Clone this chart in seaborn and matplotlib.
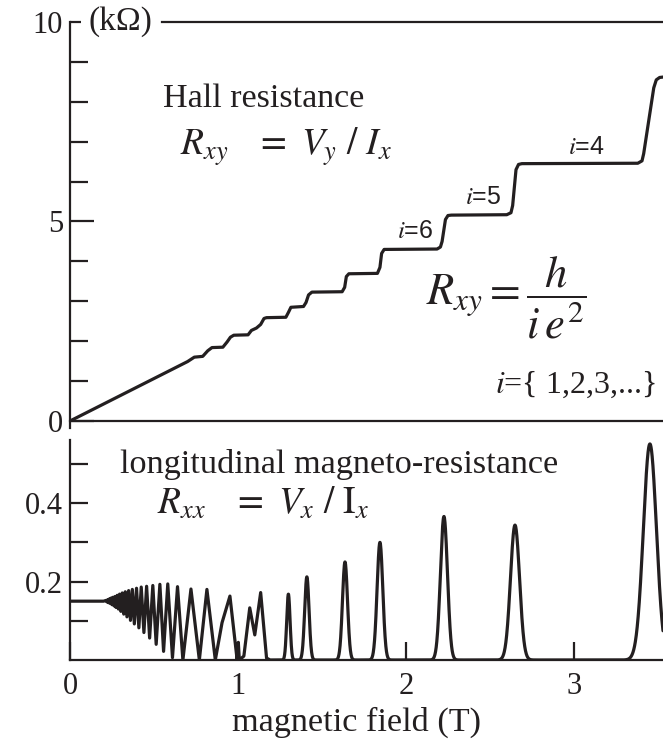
import numpy as np
import pandas as pd
import seaborn as sns
import matplotlib.pyplot as plt
from matplotlib.ticker import FixedLocator

# Hall resistance R_xy (kOhm) vs magnetic field B (T): vertices of the measured trace
hall_B = [0.00, 0.70, 0.74, 0.79, 0.82, 0.845, 0.91, 0.935, 0.955, 0.975, 1.06, 1.08,
          1.11, 1.135, 1.155, 1.17, 1.285, 1.30, 1.315, 1.39, 1.405, 1.42, 1.44, 1.62,
          1.635, 1.645, 1.66, 1.83, 1.845, 1.855, 1.87, 2.185, 2.205, 2.215, 2.235, 2.25,
          2.27, 2.60, 2.625, 2.635, 2.655, 2.67, 2.69, 3.38, 3.405, 3.415, 3.475, 3.49,
          3.51, 3.53]
hall_R = [0.00, 1.49, 1.60, 1.62, 1.76, 1.84, 1.85, 1.98, 2.10, 2.15, 2.16, 2.27,
          2.33, 2.42, 2.57, 2.59, 2.60, 2.72, 2.85, 2.87, 2.97, 3.16, 3.23, 3.24,
          3.35, 3.62, 3.69, 3.70, 3.85, 4.20, 4.30, 4.31, 4.36, 4.50, 5.05, 5.15,
          5.16, 5.17, 5.22, 5.40, 6.30, 6.43, 6.45, 6.46, 6.52, 6.70, 8.35, 8.55,
          8.61, 8.62]

# Longitudinal resistance R_xx (kOhm), low-field Shubnikov-de Haas oscillations
sdh_B = [0.00, 0.20, 0.215, 0.22, 0.225, 0.23, 0.235, 0.24, 0.245, 0.25, 0.256, 0.262,
         0.268, 0.274, 0.281, 0.288, 0.295, 0.303, 0.311, 0.320, 0.329, 0.339, 0.349,
         0.360, 0.371, 0.383, 0.396, 0.410, 0.424, 0.440, 0.456, 0.474, 0.493, 0.513,
         0.535, 0.557, 0.582, 0.610, 0.640, 0.672, 0.720, 0.770, 0.815, 0.865, 0.905,
         0.952, 0.995, 1.002, 1.008, 1.035, 1.07, 1.10, 1.135, 1.17, 1.19]
sdh_R = [0.150, 0.150, 0.152, 0.148, 0.154, 0.146, 0.156, 0.144, 0.158, 0.141, 0.160, 0.138,
         0.162, 0.134, 0.165, 0.130, 0.168, 0.124, 0.171, 0.117, 0.174, 0.110, 0.177,
         0.101, 0.180, 0.092, 0.183, 0.082, 0.186, 0.070, 0.188, 0.056, 0.190, 0.040,
         0.193, 0.022, 0.194, 0.006, 0.187, 0.000, 0.181, 0.000, 0.180, 0.000, 0.095,
         0.163, 0.000, 0.045, 0.000, 0.010, 0.133, 0.064, 0.172, 0.005, 0.000]

# High-field R_xx peaks between Hall plateaus: centre (T), height (kOhm), width (T)
peak_B = [1.300, 1.410, 1.637, 1.845, 2.226, 2.649, 3.452]
peak_R = [0.168, 0.212, 0.250, 0.300, 0.366, 0.344, 0.551]
peak_w = [0.010, 0.013, 0.015, 0.017, 0.021, 0.027, 0.039]

B_MAX = 3.53
INK = "#231f20"

sns.set_theme(style="ticks")
plt.rcParams["font.family"] = ["Liberation Serif", "DejaVu Serif"]
plt.rcParams["mathtext.fontset"] = "stix"
plt.rcParams["text.color"] = INK
plt.rcParams["axes.edgecolor"] = INK
plt.rcParams["xtick.color"] = INK
plt.rcParams["ytick.color"] = INK

W, H = 663, 740
fig = plt.figure(figsize=(W / 100, H / 100), dpi=100)


def fx(x):
    return x / W


def fy(y):
    return 1 - y / H


ax_h = fig.add_axes([fx(70), fy(421), fx(W - 70), (421 - 22) / H])
ax_l = fig.add_axes([fx(70), fy(660), fx(W - 70), (660 - 440) / H])

# Hall trace
hall = pd.DataFrame({"B": hall_B, "R": hall_R})
sns.lineplot(data=hall, x="B", y="R", ax=ax_h, sort=False, estimator=None,
             color=INK, linewidth=2.3)
for ln in ax_h.lines:
    ln.set_solid_joinstyle("round")
    ln.set_solid_capstyle("round")

# Longitudinal trace: low-field oscillations followed by the quantum Hall peaks
grid = np.linspace(1.19, B_MAX, 2500)
peaks = np.zeros_like(grid)
for c, h, w in zip(peak_B, peak_R, peak_w):
    peaks += h * np.exp(-0.5 * ((grid - c) / w) ** 2)
rxx = pd.DataFrame({"B": np.concatenate([sdh_B, grid]),
                    "R": np.concatenate([sdh_R, peaks])})
sns.lineplot(data=rxx, x="B", y="R", ax=ax_l, sort=False, estimator=None,
             color=INK, linewidth=2.3)
for ln in ax_l.lines:
    ln.set_solid_joinstyle("round")

for ax in (ax_h, ax_l):
    ax.set_xlim(0, B_MAX)
    ax.set_xlabel("")
    ax.set_ylabel("")
    ax.spines["right"].set_visible(False)
    for s in ("left", "bottom", "top"):
        ax.spines[s].set_linewidth(1.6)
    ax.tick_params(direction="in", width=1.6, labelsize=22, pad=5)
    ax.tick_params(which="minor", direction="in", width=1.6)

# Upper panel axes
ax_h.set_ylim(0, 10)
ax_h.spines["top"].set_bounds(0.55, B_MAX)
ax_h.spines["left"].set_bounds(-0.18, 10)
ax_h.set_xticks([])
ax_h.yaxis.set_major_locator(FixedLocator([0, 5, 10]))
ax_h.yaxis.set_minor_locator(FixedLocator([1, 2, 3, 4, 6, 7, 8, 9]))
ax_h.tick_params(axis="y", which="major", length=17)
ax_h.tick_params(axis="y", which="minor", length=13)
ax_h.set_yticklabels(["0", "5", "10"])
ax_h.yaxis.get_major_ticks()[2].tick1line.set_markersize(8)

# Lower panel axes
ax_l.set_ylim(0, 0.561)
ax_l.spines["top"].set_visible(False)
ax_l.set_xticks([0, 1, 2, 3])
ax_l.set_xticklabels(["0", "1", "2", "3"])
ax_l.yaxis.set_major_locator(FixedLocator([0.2, 0.4]))
ax_l.yaxis.set_minor_locator(FixedLocator([0.1, 0.3, 0.5]))
ax_l.set_yticklabels(["0.2", "0.4"])
ax_l.tick_params(axis="both", which="both", length=13)
ax_l.tick_params(axis="x", pad=9)

# Annotations
fig.text(fx(89), fy(22), "(k\u03a9)", fontsize=24, va="center", ha="left")
fig.text(fx(163), fy(99), "Hall resistance", fontsize=24.5, va="center", ha="left")
fig.text(fx(180), fy(147), r"$R_{xy}\ \ \ =\ V_y\ /\ I_x$", fontsize=27,
         va="center", ha="left")
fig.text(fx(426), fy(298), r"$R_{xy} = \dfrac{h}{i\,e^2}$", fontsize=32,
         va="center", ha="left")
fig.text(fx(495), fy(384), r"$i$={ 1,2,3,...}", fontsize=23, va="center", ha="left")
for lab, x, y in (("6", 415, 231), ("5", 483, 197), ("4", 586, 147)):
    fig.text(fx(x), fy(y), r"$i$=" + lab, fontsize=18, va="center", ha="center",
             family=["Liberation Sans", "DejaVu Sans"])

fig.text(fx(120), fy(464), "longitudinal magneto-resistance", fontsize=24.7,
         va="center", ha="left")
fig.text(fx(157), fy(504), r"$R_{xx}\ \ \ =\ V_x\ /\ \mathrm{I}_x$", fontsize=27,
         va="center", ha="left")
fig.text(fx(357), fy(722), "magnetic field (T)", fontsize=24.7, va="center", ha="center")

fig.savefig("out.png", dpi=100)
